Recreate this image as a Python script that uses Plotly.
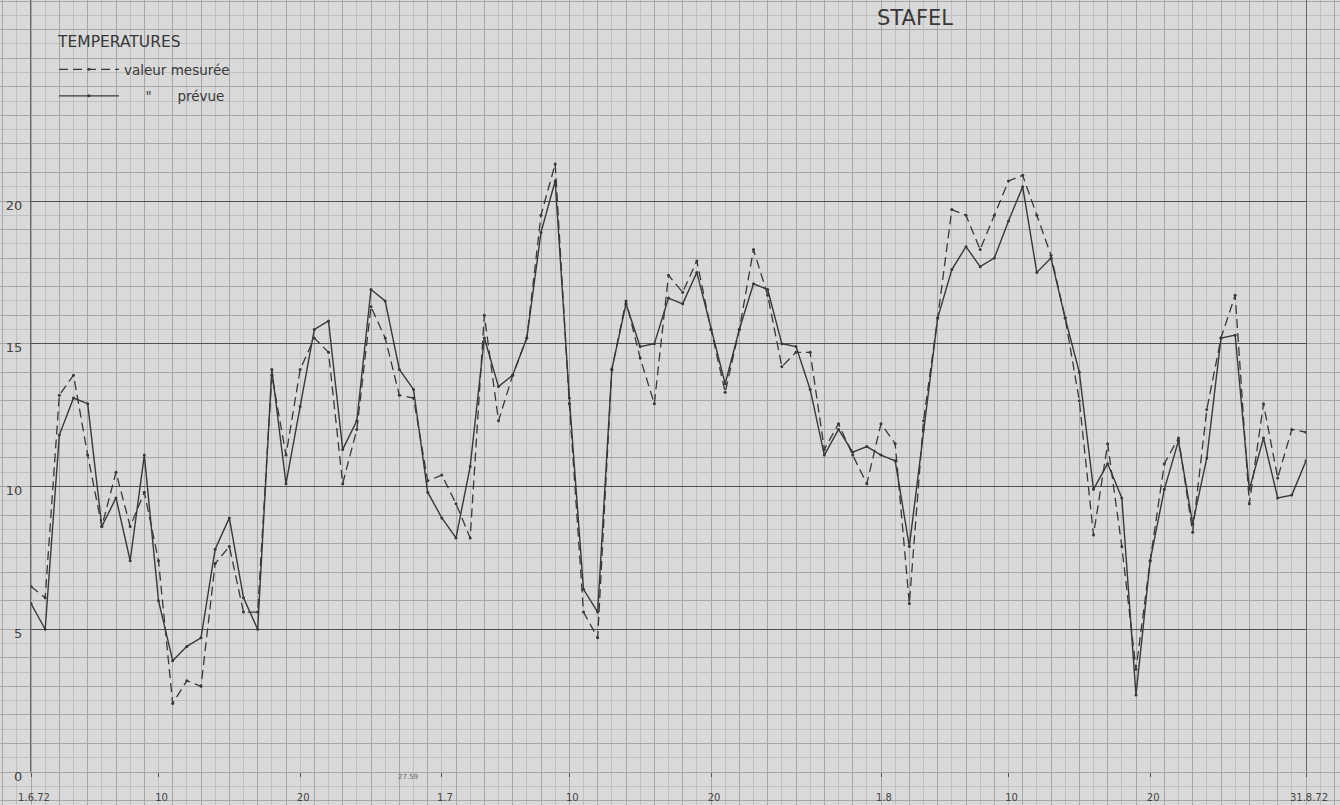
import plotly.graph_objects as go

# day index 0..90 (1.6.72 .. 31.8.72 as drawn on the sheet)
days = list(range(91))

mesuree = [6.5, 6.1, 13.2, 13.9, 11.1, 8.6, 10.5, 8.6, 9.8, 7.4,
           2.4, 3.2, 3.0, 7.3, 7.9, 5.6, 5.6, 13.9, 11.1, 14.1,
           15.2, 14.7, 10.1, 12.0, 16.3, 15.2, 13.2, 13.1, 10.2, 10.4,
           9.4, 8.2, 16.0, 12.3, 13.9, 15.2, 19.5, 21.3, 12.9, 5.6,
           4.7, 14.1, 16.5, 14.5, 12.9, 17.4, 16.8, 17.9, 15.5, 13.3,
           15.5, 18.3, 16.7, 14.2, 14.7, 14.7, 11.3, 12.2, 11.1, 10.1,
           12.2, 11.5, 5.9, 12.3, 15.9, 19.7, 19.5, 18.3, 19.5, 20.7,
           20.9, 19.5, 18.1, 15.9, 13.0, 8.3, 11.5, 7.9, 3.6, 7.4,
           10.8, 11.7, 8.4, 12.7, 15.2, 16.7, 9.4, 12.9, 10.3, 12.0,
           11.9]

prevue = [5.9, 5.0, 11.8, 13.1, 12.9, 8.6, 9.6, 7.4, 11.1, 6.0,
          3.9, 4.4, 4.7, 7.8, 8.9, 6.1, 5.0, 14.1, 10.1, 12.8,
          15.5, 15.8, 11.3, 12.3, 16.9, 16.5, 14.1, 13.4, 9.8, 8.9,
          8.2, 10.7, 15.2, 13.5, 13.9, 15.2, 18.9, 20.7, 13.1, 6.4,
          5.6, 14.1, 16.4, 14.9, 15.0, 16.6, 16.4, 17.5, 15.5, 13.6,
          15.5, 17.1, 16.9, 15.0, 14.9, 13.4, 11.1, 12.0, 11.2, 11.4,
          11.1, 10.9, 7.9, 12.0, 15.9, 17.6, 18.4, 17.7, 18.0, 19.3,
          20.5, 17.5, 18.0, 15.9, 14.0, 9.9, 10.8, 9.6, 2.7, 7.4,
          9.9, 11.6, 8.7, 11.0, 15.2, 15.3, 9.9, 11.7, 9.6, 9.7,
          10.9]

x_tickvals = [0, 9, 19, 29, 38, 48, 60, 69, 79, 90]
x_ticktext = ["1.6.72", "10", "20", "1.7", "10", "20", "1.8", "10", "20", "31.8.72"]
y_tickvals = [0, 5, 10, 15, 20]

W, H = 1340, 805
X0, X1 = 31, 1306      # pixel span of the data axis
Y0 = 772               # pixel row of value 0
PX_DAY = (X1 - X0) / 90.0
PX_UNIT = (772 - 201) / 20.0

ink = "#383838"
font_family = "DejaVu Sans"
NB = "\u00a0"

fig = go.Figure()

# invisible trace to create the graph-paper subplot
fig.add_trace(go.Scatter(x=[None], y=[None], xaxis="x", yaxis="y",
                         showlegend=False, hoverinfo="skip"))

fig.add_trace(go.Scatter(
    x=days, y=mesuree, xaxis="x2", yaxis="y2",
    mode="lines+markers", name="valeur mesurée",
    legendgroup="a",
    line=dict(color=ink, width=1.3, dash="9px,5px"),
    marker=dict(size=3, color=ink),
))
fig.add_trace(go.Scatter(
    x=days, y=prevue, xaxis="x2", yaxis="y2",
    mode="lines+markers", name=NB * 5 + "\"" + NB * 6 + "prévue",
    legendgroup="b",
    line=dict(color=ink, width=1.4),
    marker=dict(size=3, color=ink),
))

fig.update_layout(
    width=W, height=H,
    margin=dict(l=0, r=0, t=0, b=0, autoexpand=False),
    paper_bgcolor="#d9d9d9",
    plot_bgcolor="rgba(0,0,0,0)",
    font=dict(family=font_family, color=ink),
    showlegend=True,
    legend=dict(
        x=54 / W, y=1 - 54 / H, xanchor="left", yanchor="top",
        bgcolor="rgba(0,0,0,0)",
        font=dict(size=13.5, color=ink),
        itemwidth=60, tracegroupgap=6,
    ),
    title=dict(text="STAFEL", x=915 / W, xanchor="center",
               y=1 - 18 / H, yanchor="middle", automargin=False,
               font=dict(size=21, color=ink, family=font_family)),
    # graph paper (full sheet)
    xaxis=dict(domain=[0, 1], range=[-X0 / PX_DAY, (W - X0) / PX_DAY],
               showgrid=True, gridcolor="#a6a6a6", gridwidth=1,
               dtick=2, tick0=0, showticklabels=False, ticks="",
               minor=dict(dtick=1, showgrid=True, gridcolor="#c0c0c0", gridwidth=1),
               zeroline=False, showline=False, fixedrange=True, automargin=False),
    yaxis=dict(domain=[0, 1], range=[-(H - Y0) / PX_UNIT, Y0 / PX_UNIT],
               showgrid=True, gridcolor="#a6a6a6", gridwidth=1,
               dtick=1, tick0=0, showticklabels=False, ticks="",
               minor=dict(dtick=0.5, showgrid=True, gridcolor="#c0c0c0", gridwidth=1),
               zeroline=False, showline=False, fixedrange=True, automargin=False),
    # data axes
    xaxis2=dict(domain=[X0 / W, X1 / W], range=[0, 90], anchor="y2",
                showgrid=False, zeroline=False, showline=False, automargin=False,
                tickmode="array", tickvals=x_tickvals, ticktext=x_ticktext,
                ticks="outside", ticklen=4, tickcolor="#555",
                tickfont=dict(size=10, color="#444"),
                ticklabelstandoff=12, ticklabelshift=3),
    yaxis2=dict(domain=[(H - Y0) / H, 1], range=[0, Y0 / PX_UNIT], anchor="x2",
                showgrid=True, gridcolor="#505050", gridwidth=1.2,
                tickmode="array", tickvals=y_tickvals, automargin=False,
                ticks="", zeroline=False,
                showline=True, mirror=True, linecolor="#666", linewidth=1,
                tickfont=dict(size=13, color="#444"),
                ticklabelstandoff=5, ticklabelshift=4),
    annotations=[
        dict(text="TEMPERATURES", x=55 / W, xref="paper", xanchor="left",
             y=1 - 42 / H, yref="paper", yanchor="middle", showarrow=False,
             font=dict(size=15.5, color=ink)),
        dict(text="27.59", x=26.6, xref="x2", y=(H - 783) / H, yref="paper",
             showarrow=False, font=dict(size=7, color="#666")),
    ],
)

fig.write_html("out.html",
               config={"displayModeBar": False},
               post_script="document.body.style.margin='0';"
                           "document.body.style.overflow='hidden';")
